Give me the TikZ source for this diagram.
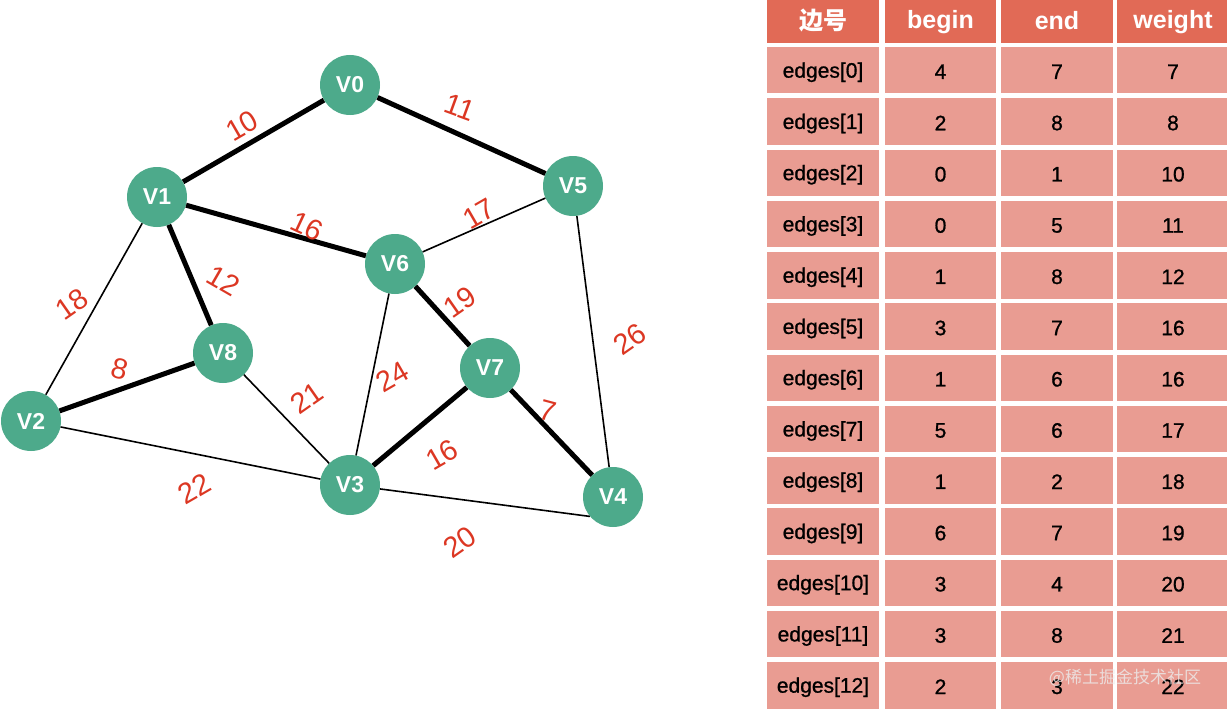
\documentclass[tikz,border=0pt]{standalone}
\usepackage{fontspec}
\setmainfont{Liberation Sans}
\newfontfamily\medfont{Liberation Sans}[FakeBold=0.9]
\newfontfamily\cjk{Noto Sans CJK SC}
\definecolor{vcol}{RGB}{77,170,139}
\definecolor{hcol}{RGB}{225,106,86}
\definecolor{ccol}{RGB}{233,156,146}
\definecolor{lcol}{RGB}{220,55,35}
\begin{document}
\begin{tikzpicture}[x=1pt,y=-1pt,
  vtx/.style={circle,fill=vcol,minimum size=60pt,inner sep=0pt,text=white,font=\fontsize{23}{23}\selectfont\bfseries},
  mst/.style={line width=5pt,black},
  plain/.style={line width=1.6pt,black},
  wlab/.style={text=lcol,inner sep=0pt,font=\fontsize{29}{29}\selectfont},
  hcell/.style={fill=hcol,minimum width=111.5pt,minimum height=43pt,inner sep=0pt,text=white,font=\fontsize{25}{25}\selectfont\bfseries},
  bcell/.style={fill=ccol,minimum width=111.5pt,minimum height=46.5pt,inner sep=0pt,text=black,font=\medfont\fontsize{21}{21}\selectfont},
  ctext/.style={inner sep=0pt}]
\useasboundingbox[fill=white] (0,0) rectangle (1227,709);
% graph nodes
\node[vtx] (v0) at (350,85) {V0};
\node[vtx] (v1) at (157,197) {V1};
\node[vtx] (v2) at (31,421) {V2};
\node[vtx] (v3) at (350,485) {V3};
\node[vtx] (v4) at (613,497) {V4};
\node[vtx] (v5) at (573,186) {V5};
\node[vtx] (v6) at (395,264) {V6};
\node[vtx] (v7) at (490,368) {V7};
\node[vtx] (v8) at (223,353) {V8};
% edges
\draw[mst] (v1) -- (v0);
\draw[mst] (v0) -- (v5);
\draw[mst] (v1) -- (v6);
\draw[mst] (v1) -- (v8);
\draw[mst] (v2) -- (v8);
\draw[mst] (v6) -- (v7);
\draw[mst] (v7) -- (v4);
\draw[mst] (v7) -- (v3);
\draw[plain] (v1) -- (v2);
\draw[plain] (v6) -- (v5);
\draw[plain] (v5) -- (v4);
\draw[plain] (v6) -- (v3);
\draw[plain] (v8) -- (v3);
\draw[plain] (v2) -- (v3);
\draw[plain] (v3) -- (v4.220);
% weight labels
\node[wlab,rotate=30] (w10) at (242,126) {10};
\node[wlab,rotate=-20] (w11) at (460,107) {11};
\node[wlab,rotate=-25] (w16a) at (307,226) {16};
\node[wlab,rotate=30] (w17) at (479,214) {17};
\node[wlab,rotate=-30] (w12) at (224,281) {12};
\node[wlab,rotate=35] (w18) at (72,304) {18};
\node[wlab,rotate=-15] (w8) at (120,369) {8};
\node[wlab,rotate=35] (w21) at (307,398) {21};
\node[wlab,rotate=30] (w22) at (194,489) {22};
\node[wlab,rotate=30] (w24) at (392,377) {24};
\node[wlab,rotate=35] (w19) at (460,302) {19};
\node[wlab,rotate=30] (w16b) at (442,455) {16};
\node[wlab,rotate=-15] (w7) at (548,411) {7};
\node[wlab,rotate=35] (w26) at (630,339) {26};
\node[wlab,rotate=35] (w20) at (460,542) {20};
% table header
\node[hcell] (h1) at (823,21.5) {};
\node[hcell] (h2) at (940.5,21.5) {};
\node[hcell] (h3) at (1057,21.5) {};
\node[hcell] (h4) at (1173,21.5) {};
\node[ctext,text=white,font=\cjk\bfseries\fontsize{24}{24}\selectfont] (h1t) at (823,21) {边号};
\node[ctext,text=white,font=\fontsize{25}{25}\selectfont\bfseries] (h2t) at (940.5,22) {begin};
\node[ctext,text=white,font=\fontsize{25}{25}\selectfont\bfseries] (h3t) at (1057,21) {end};
\node[ctext,text=white,font=\fontsize{25}{25}\selectfont\bfseries] (h4t) at (1173,22) {weight};
% table rows
\foreach \i/\b/\e/\w in {0/4/7/7,1/2/8/8,2/0/1/10,3/0/5/11,4/1/8/12,5/3/7/16,6/1/6/16,7/5/6/17,8/1/2/18,9/6/7/19,10/3/4/20,11/3/8/21,12/2/3/22}{
  \pgfmathsetmacro\yc{47+51.25*\i+23.25}
  \node[bcell] (r\i a) at (823,\yc) {};
  \node[bcell] (r\i b) at (940.5,\yc) {};
  \node[bcell] (r\i c) at (1057,\yc) {};
  \node[bcell] (r\i d) at (1173,\yc) {};
  \node[ctext,font=\medfont\fontsize{21}{21}\selectfont] (r\i at) at (823,\yc+2) {edges[\i]};
  \node[ctext,font=\medfont\fontsize{21}{21}\selectfont] (r\i bt) at (940.5,\yc+1.5) {\b};
  \node[ctext,font=\medfont\fontsize{21}{21}\selectfont] (r\i ct) at (1057,\yc+1.5) {\e};
  \node[ctext,font=\medfont\fontsize{21}{21}\selectfont] (r\i dt) at (1173,\yc+1.5) {\w};
}
% watermark
\node[text=white!85!gray,opacity=0.8,inner sep=0pt,font=\cjk\fontsize{17}{17}\selectfont] (wm) at (1125,678) {@稀土掘金技术社区};
\end{tikzpicture}
\end{document}
